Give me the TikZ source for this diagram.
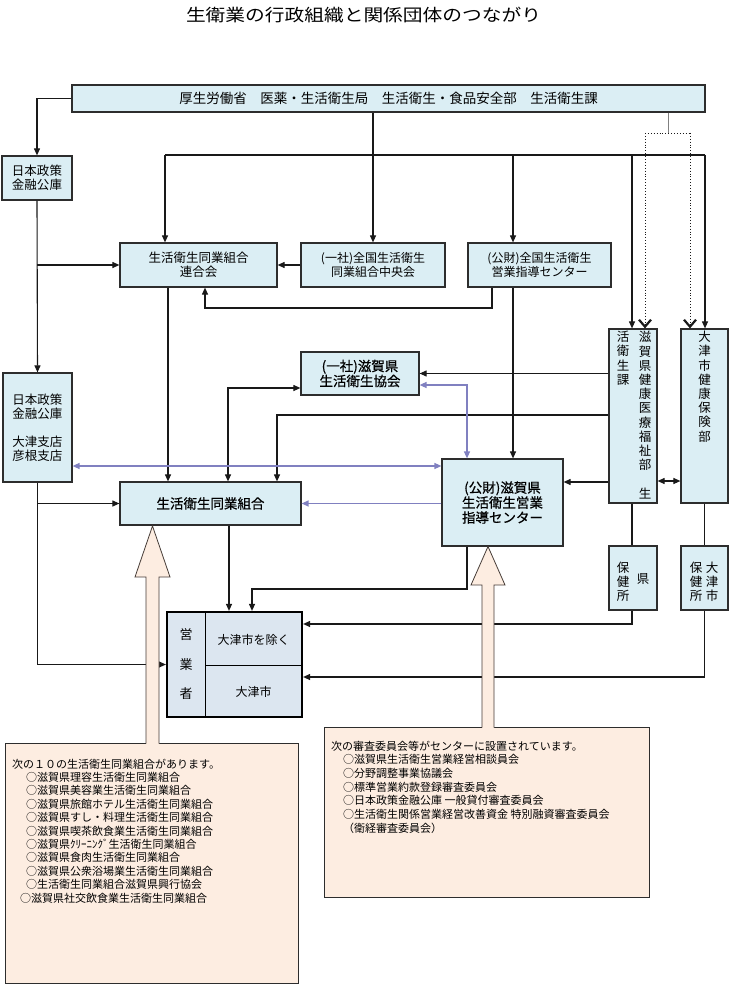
\documentclass[tikz,border=0pt]{standalone}
\usepackage{fontspec}
\setmainfont{Noto Sans CJK JP}
\newfontfamily\jp{Noto Sans CJK JP}
\newfontfamily\jpb[FakeBold=0.6]{Noto Sans CJK JP}
\newfontfamily\jpt[FakeStretch=1.16]{Noto Sans CJK JP}
\usetikzlibrary{arrows.meta,calc}
\definecolor{boxfill}{RGB}{219,238,244}
\definecolor{boxline}{RGB}{45,45,45}
\definecolor{eigfill}{RGB}{220,230,240}
\definecolor{peach}{RGB}{253,237,225}
\definecolor{peachline}{RGB}{70,60,55}
\definecolor{linkblue}{RGB}{128,128,192}
\definecolor{linecol}{RGB}{25,25,25}
\begin{document}
\begin{tikzpicture}[x=1pt,y=-1pt,
  box/.style={draw=boxline, fill=boxfill, line width=1.2pt, inner sep=0pt, align=center,
    font=\jp\fontsize{12.5}{14.5}\selectfont},
  bbox/.style={font=\jpb\fontsize{13.5}{15}\selectfont},
  vtext/.style={inner sep=0pt, align=center, font=\jp\fontsize{12.5}{14.2}\selectfont},
  ln/.style={draw=linecol, line width=1.1pt},
  arr/.style={ln, -{Triangle[length=7pt,width=6pt]}},
  darr/.style={ln, {Triangle[length=7pt,width=6pt]}-{Triangle[length=7pt,width=6pt]}},
  barr/.style={draw=linkblue, line width=1.3pt, -{Triangle[length=7pt,width=6pt]}},
  bdarr/.style={draw=linkblue, line width=1.3pt, {Triangle[length=7pt,width=6pt]}-{Triangle[length=7pt,width=6pt]}},
  dotln/.style={draw=linecol, line width=0.9pt, dotted},
  dotarr/.style={dotln, -{Straight Barb[length=7pt,width=12pt,line width=2.2pt]}},
  cbox/.style={draw=boxline, fill=peach, line width=1pt, inner sep=0pt},
  callout/.style={fill=peach},
  calloutline/.style={draw=peachline, line width=0.8pt},
  note/.style={inner sep=0pt, anchor=west, font=\jp\fontsize{11}{13}\selectfont}
]
\useasboundingbox (0,0) rectangle (730,984);

% title
\node[inner sep=0pt, font=\jpt\fontsize{17}{20}\selectfont] (title) at (363.5,15) {生衛業の行政組織と関係団体のつながり};

% boxes
\node[box, minimum width=633pt, minimum height=27pt, font=\jp\fontsize{13.5}{14}\selectfont] (top) at (388.5,98.5)
  {厚生労働省　医薬・生活衛生局　生活衛生・食品安全部　生活衛生課};
\node[box, minimum width=70pt, minimum height=44pt] (jfc1) at (37,178) {日本政策\\金融公庫};
\node[box, minimum width=157pt, minimum height=44pt] (rengo) at (198.5,265) {生活衛生同業組合\\連合会};
\node[box, minimum width=144pt, minimum height=44pt, font=\jp\fontsize{12}{14.5}\selectfont] (chuo) at (373,265) {(一社)全国生活衛生\\同業組合中央会};
\node[box, minimum width=143pt, minimum height=44pt, font=\jp\fontsize{12}{14.5}\selectfont] (zenkoku) at (539.5,265) {(公財)全国生活衛生\\営業指導センター};
\node[box, bbox, minimum width=118pt, minimum height=43pt] (kyokai) at (360,373.5) {(一社)滋賀県\\生活衛生協会};
\node[box, minimum width=69pt, minimum height=109pt, font=\jp\fontsize{12.5}{14}\selectfont] (jfc2) at (37.5,427.5) {日本政策\\金融公庫\\[14pt]大津支店\\彦根支店};
\node[box, bbox, minimum width=181pt, minimum height=43pt] (kumiai) at (210.5,503.5) {生活衛生同業組合};
\node[box, bbox, minimum width=121pt, minimum height=87pt] (center) at (502.5,502.5) {(公財)滋賀県\\生活衛生営業\\指導センター};

% vertical boxes
\node[box, minimum width=48pt, minimum height=174pt] (shiga) at (633,416) {};
\node[vtext] (shigaR) at (645,415) {滋\\賀\\県\\健\\康\\医\\療\\福\\祉\\部\\[14.2pt]生};
\node[vtext] (shigaL) at (623,358.3) {活\\衛\\生\\課};
\node[box, minimum width=47pt, minimum height=174pt] (otsu) at (704.5,416) {};
\node[vtext] (otsuV) at (704.5,386.7) {大\\津\\市\\健\\康\\保\\険\\部};
\node[box, minimum width=48pt, minimum height=64pt] (hoken1) at (633,578) {};
\node[vtext] (hoken1L) at (623,581.5) {保\\健\\所};
\node[vtext] (hoken1R) at (643,579) {県};
\node[box, minimum width=47pt, minimum height=64pt] (hoken2) at (704.5,578) {};
\node[vtext] (hoken2L) at (696,581.5) {保\\健\\所};
\node[vtext] (hoken2R) at (712,581.5) {大\\津\\市};

% eigyosha box
\node[draw=black, line width=2.2pt, fill=eigfill, minimum width=135pt, minimum height=105pt, inner sep=0pt] (eigyo) at (234.5,664.5) {};
\draw[draw=black, line width=1pt] (205,612) -- (205,717);
\draw[draw=black, line width=1pt] (205,665) -- (302,665);
\node[inner sep=0pt, align=center, font=\jp\fontsize{13}{29.5}\selectfont] (eigyoV) at (186,664.5) {営\\業\\者};
\node[inner sep=0pt, font=\jp\fontsize{12}{14}\selectfont] (jogai) at (253.5,640) {大津市を除く};
\node[inner sep=0pt, font=\jp\fontsize{12}{14}\selectfont] (otsushi) at (253.5,692) {大津市};

% bus from ministry
\coordinate (busL) at (165,155);
\coordinate (busZ) at (513,155);
\coordinate (busS) at (632,155);
\coordinate (busR) at (705,155);
\draw[ln] (busL) -- (busR);
\draw[arr] (top.south -| chuo) -- (chuo.north);
\draw[arr] (busL) -- (busL |- rengo.north);
\draw[arr] (busZ) -- (busZ |- zenkoku.north);
\draw[arr] (busS) -- (busS |- shiga.north);
\draw[arr] (busR) -- (busR |- otsu.north);

% dotted links
\coordinate (dt) at (668,133);
\coordinate (dL) at (645,133);
\coordinate (dR) at (690,133);
\draw[draw=gray, line width=0.8pt] (top.south -| dt) -- (dt);
\draw[dotln] (dL) -- (dR);
\draw[dotarr] (dL) -- (dL |- shiga.north);
\draw[dotarr] (dR) -- (dR |- otsu.north);

% left column (finance corporation)
\draw[arr] (top.west) -| (jfc1.north);
\draw[arr] (jfc1.south) -- (jfc2.north);
\coordinate (b1) at (37,265);
\draw[arr] (b1) -- (rengo.west);
\draw[arr] (jfc2.south) |- (eigyo.west);
\coordinate (b2) at (37,503.5);
\draw[arr] (b2) -- (kumiai.west);

% national level
\draw[arr] (chuo.west) -- (rengo.east);
\coordinate (zA) at (492,308);
\draw[arr] (zA |- zenkoku.south) -- (zA) -| ($(rengo.south)+(6.5,0)$);
\draw[arr] (busZ |- zenkoku.south) -- (busZ |- center.north);
\coordinate (rk) at ($(rengo.south)+(-30.5,0)$);
\draw[arr] (rk) -- (rk |- kumiai.north);

% prefecture links
\draw[arr] (shiga.west |- kyokai.east) -- (kyokai.east);
\draw[darr] ($(kyokai.west)+(0,14.5)$) -| ($(kumiai.north)+(17.5,0)$);
\draw[arr] ($(shiga.west)+(0,-1)$) -| ($(kumiai.north)+(66.5,0)$);
\coordinate (cx) at ($(center.east)+(0,-20.5)$);
\draw[arr] (shiga.west |- cx) -- (cx);
\draw[darr] ($(shiga.east)+(0,65)$) -- ($(otsu.west)+(0,65)$);
\draw[ln] (shiga.south -| busS) -- (hoken1.north -| busS);
\draw[ln] (otsu.south) -- (hoken2.north);
\draw[arr] (hoken1.south -| busS) |- ($(eigyo.east)+(0,-40.5)$);
\draw[arr] (hoken2.south) |- ($(eigyo.east)+(0,12.5)$);
\coordinate (ke) at ($(kumiai.south)+(18.5,0)$);
\draw[arr] (ke) -- (ke |- eigyo.north);
\coordinate (cE) at (467,589);
\draw[arr] (cE |- center.south) -- (cE) -| ($(eigyo.north)+(17.5,0)$);

% blue links
\draw[bdarr] ($(kyokai.east)+(0,11.5)$) -| ($(center.north)+(-35.5,0)$);
\coordinate (bl) at ($(jfc2.east)+(0,38.5)$);
\draw[bdarr] (bl) -- (bl -| center.west);
\draw[barr] (center.west |- kumiai.east) -- (kumiai.east);

% note boxes
\node[cbox, minimum width=293pt, minimum height=240pt] (note1) at (151.5,863) {};
\node[cbox, minimum width=325pt, minimum height=170pt] (note2) at (486.5,812) {};

% callout arrows
\fill[callout] (152.5,526) -- (170,577) -- (159,577) -- (159,744.5) -- (146,744.5) -- (146,577) -- (135,577) -- cycle;
\draw[calloutline] (159,743.5) -- (159,577) -- (170,577) -- (152.5,526) -- (135,577) -- (146,577) -- (146,743.5);
\fill[callout] (488,546.5) -- (505,585) -- (494,585) -- (494,728.5) -- (482,728.5) -- (482,585) -- (471,585) -- cycle;
\draw[calloutline] (494,727.5) -- (494,585) -- (505,585) -- (488,546.5) -- (471,585) -- (482,585) -- (482,727.5);

% note texts (left)
\node[note] (l1) at (12,764) {次の１０の生活衛生同業組合があります。};
\node[note] (l2) at (26,777.4) {○滋賀県理容生活衛生同業組合};
\node[note] (l3) at (26,790.8) {○滋賀県美容業生活衛生同業組合};
\node[note] (l4) at (26,804.2) {○滋賀県旅館ホテル生活衛生同業組合};
\node[note] (l5) at (26,817.6) {○滋賀県すし・料理生活衛生同業組合};
\node[note] (l6) at (26,831) {○滋賀県喫茶飲食業生活衛生同業組合};
\node[note] (l7) at (26,844.4) {○滋賀県ｸﾘｰﾆﾝｸﾞ生活衛生同業組合};
\node[note] (l8) at (26,857.8) {○滋賀県食肉生活衛生同業組合};
\node[note] (l9) at (26,871.2) {○滋賀県公衆浴場業生活衛生同業組合};
\node[note] (l10) at (26,884.6) {○生活衛生同業組合滋賀県興行協会};
\node[note] (l11) at (20,898) {○滋賀県社交飲食業生活衛生同業組合};

% note texts (right)
\node[note] (r1) at (331,746) {次の審査委員会等がセンターに設置されています。};
\node[note] (r2) at (343,759.7) {○滋賀県生活衛生営業経営相談員会};
\node[note] (r3) at (343,773.3) {○分野調整事業協議会};
\node[note] (r4) at (343,787) {○標準営業約款登録審査委員会};
\node[note] (r5) at (343,800.6) {○日本政策金融公庫 一般貸付審査委員会};
\node[note] (r6) at (343,814.3) {○生活衛生関係営業経営改善資金 特別融資審査委員会};
\node[note] (r7) at (343,828) {（衛経審査委員会）};
\end{tikzpicture}
\end{document}
